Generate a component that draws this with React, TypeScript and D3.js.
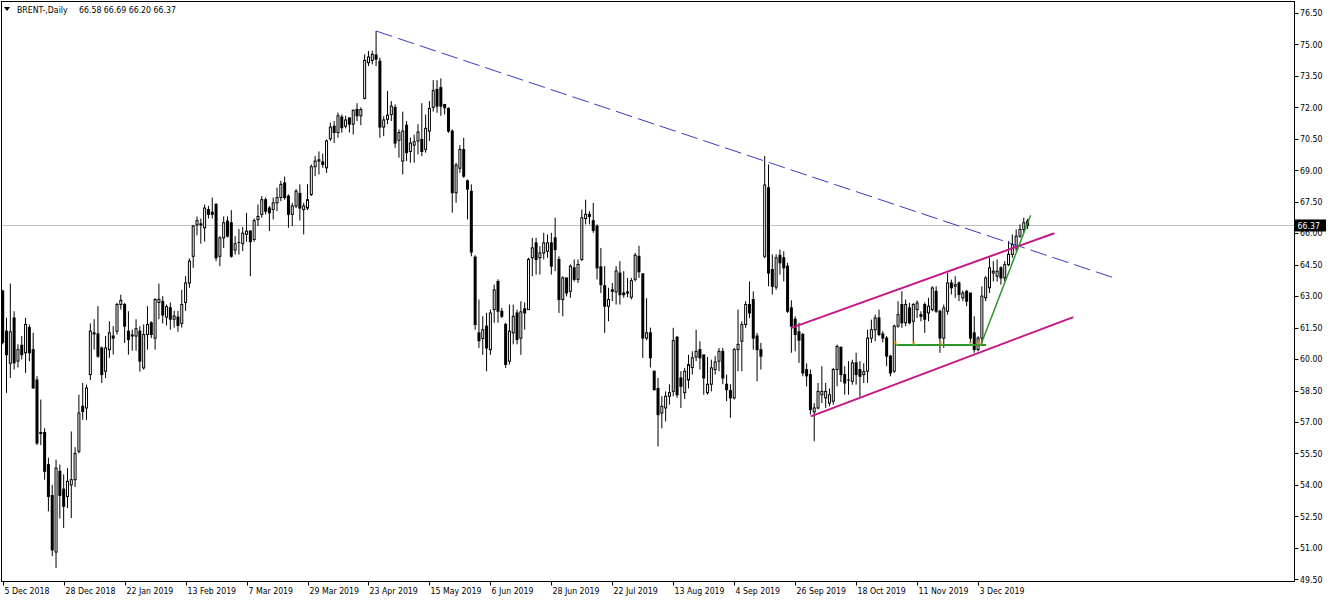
import React from "react";
import * as d3 from "d3";

// ---- data (BRENT-, Daily) ----
const opens = [
63.24,61.33,59.8,61.96,59.9,60.66,60.3,61.5,60.45,59.0,
56.5,56.5,54.97,53.5,50.8,54.65,53.8,53.45,54.0,54.25,
55.6,57.75,57.67,59.26,61.2,61.2,60.53,59.42,60.45,61.1,
61.33,62.6,62.6,61.33,61.1,61.1,61.33,59.58,61.17,61.73,
61.0,62.7,62.75,62.0,62.45,61.9,62.0,61.7,62.7,63.63,
64.9,66.4,66.45,66.26,67.13,67.0,67.37,64.9,65.78,66.58,
66.5,65.2,65.54,65.5,65.95,66.1,65.7,66.65,66.9,67.6,
67.2,67.13,67.45,67.7,68.4,67.77,66.9,67.3,67.9,67.13,
67.2,67.85,69.17,69.44,69.4,69.12,70.5,71.1,70.8,71.54,
71.1,71.5,71.2,71.9,71.6,72.43,74.13,74.24,74.5,74.2,
71.06,71.43,71.66,72.0,70.43,69.44,71.15,69.9,70.2,70.4,
70.47,70.0,70.87,72.0,72.86,72.94,72.14,71.95,70.87,67.93,
69.1,69.99,68.5,68.0,64.86,61.25,60.98,61.57,60.45,62.36,
63.7,62.28,61.65,59.9,61.25,62.2,61.0,62.4,62.36,64.83,
65.54,64.83,65.06,65.14,65.54,65.78,64.75,62.84,63.87,63.23,
64.35,63.8,64.75,66.7,66.9,66.6,66.34,64.4,63.5,62.52,
63.3,63.2,64.1,63.15,63.2,62.95,63.8,64.9,64.06,61.0,
61.25,59.42,58.6,57.43,57.67,58.23,58.46,61.04,59.1,58.4,
59.0,59.6,60.1,60.45,60.2,58.4,58.8,59.5,59.9,60.37,
58.8,58.5,58.15,60.45,60.85,61.65,62.6,62.84,61.1,60.45,
64.9,68.17,64.27,63.43,64.95,64.83,64.43,62.44,61.9,61.3,
61.17,59.5,59.26,57.48,57.67,58.3,58.15,57.9,57.99,59.5,
60.56,59.26,59.0,58.94,59.82,59.5,59.26,59.42,61.0,61.4,
61.96,61.2,61.0,60.14,59.42,61.57,62.6,61.73,62.44,61.8,
62.36,62.12,62.6,62.2,62.36,63.23,62.28,61.0,62.28,63.63,
63.47,63.63,62.92,63.23,63.15,61.25,60.45,61.0,62.92,63.4,
64.1,63.95,64.35,63.87,64.5,64.99,65.3,65.86,66.18,66.58
];
const highs = [
63.3,61.97,63.6,62.28,60.7,61.1,61.96,61.65,61.25,59.18,
58.07,56.7,55.3,54.0,55.2,54.97,54.5,54.8,56.55,55.8,
58.3,58.86,58.78,61.7,61.9,62.52,60.6,61.1,61.8,61.57,
62.68,63.07,62.68,62.28,61.4,61.9,61.57,61.65,62.52,61.8,
62.9,63.6,63.0,62.6,62.7,62.3,62.3,63.3,63.95,64.8,
66.4,66.8,66.7,67.37,67.3,67.7,67.45,65.86,66.8,66.8,
67.1,65.86,66.2,66.3,66.97,66.15,66.7,67.37,67.77,67.7,
67.3,67.7,68.17,68.5,68.7,67.85,67.45,68.1,68.33,67.45,
68.33,69.28,69.68,69.9,69.8,70.47,71.27,71.35,71.75,71.66,
71.6,71.5,71.9,72.2,72.0,74.53,74.69,74.7,75.64,74.37,
71.58,72.78,72.3,72.14,70.95,71.8,71.35,70.55,70.7,71.2,
72.2,71.66,72.3,73.3,73.3,73.38,72.14,72.0,70.95,69.36,
70.2,70.55,68.56,68.33,64.95,62.84,62.04,62.2,62.36,63.55,
63.8,62.44,61.73,62.6,62.6,62.36,62.76,62.7,64.83,65.78,
65.78,65.38,66.02,65.94,66.02,66.74,64.9,63.95,63.87,64.51,
64.75,64.75,67.13,67.6,67.05,67.45,66.42,65.3,64.43,63.4,
63.63,64.43,64.67,64.19,63.87,63.87,65.06,65.4,64.1,62.9,
61.5,59.45,59.1,58.23,58.46,58.8,61.49,61.1,59.42,59.58,
60.2,60.37,61.4,60.85,60.2,60.1,59.97,60.14,60.53,60.53,
59.26,58.8,60.53,62.36,61.8,62.76,63.7,63.23,61.25,60.77,
69.68,69.28,64.99,64.99,65.22,65.14,64.59,62.8,62.04,61.73,
61.25,59.8,59.5,57.9,58.86,59.66,58.86,58.6,59.58,60.69,
60.6,59.66,59.9,59.97,60.3,59.9,59.8,61.4,61.88,62.12,
62.36,61.33,61.1,60.2,61.65,62.76,63.23,62.84,62.68,62.68,
62.8,62.28,62.7,62.92,63.47,63.47,62.36,62.6,64.1,63.79,
63.95,63.7,63.27,63.3,63.15,62.04,61.09,63.47,63.95,64.83,
64.67,64.75,64.43,64.67,65.62,65.94,66.18,66.42,66.74,66.69
];
const lows = [
60.7,58.39,59.1,59.5,59.6,59.98,59.34,59.9,58.6,55.9,
55.9,54.25,52.74,50.6,50.04,52.4,51.95,52.9,52.42,53.9,
55.5,57.1,57.1,59.0,60.45,60.06,58.86,59.1,60.06,60.21,
61.17,62.36,60.77,60.21,60.4,60.4,59.4,59.5,60.45,61.0,
60.45,61.9,61.7,61.6,61.4,61.5,61.3,61.5,62.3,63.4,
64.35,65.9,65.5,65.6,66.7,66.7,64.67,64.43,65.3,65.8,
64.83,64.98,64.98,65.15,65.6,63.95,65.6,66.34,66.74,66.9,
66.1,66.66,67.05,67.53,67.6,66.26,66.34,67.2,66.6,65.94,
67.1,67.77,68.72,68.8,69.12,68.88,70.4,70.3,70.55,70.79,
71.0,70.8,70.7,71.35,71.15,72.38,73.97,74.05,73.97,70.55,
70.63,71.2,71.35,70.07,69.6,68.8,69.44,69.36,69.36,69.76,
69.68,69.84,70.4,71.8,71.74,71.6,71.66,70.79,66.98,67.45,
68.88,68.64,66.66,64.9,61.4,60.53,60.2,59.42,60.2,61.73,
61.73,61.96,59.58,59.74,60.7,60.7,60.2,61.4,62.36,63.95,
64.03,64.03,64.75,64.83,64.03,64.19,62.2,62.04,62.99,62.92,
63.7,63.63,64.67,66.42,66.42,66.02,63.8,63.15,61.25,61.8,
62.76,62.6,62.6,62.92,62.95,62.84,63.7,63.87,60.05,60.9,
59.6,58.5,55.84,56.7,57.03,57.83,58.23,58.15,57.67,58.1,
58.6,59.26,59.9,59.5,58.3,58.3,58.46,59.26,59.42,58.8,
57.99,57.2,58.07,59.42,59.42,61.49,61.96,60.45,58.94,59.5,
64.8,63.47,63.08,63.3,64.03,63.7,62.2,60.3,60.37,59.82,
59.18,58.7,57.35,56.08,57.6,57.9,57.67,57.75,57.83,58.7,
58.9,58.3,58.3,58.78,58.78,58.2,58.86,58.86,60.77,60.85,
61.09,60.8,59.66,59.18,59.34,61.49,61.49,61.57,61.65,60.7,
61.96,61.8,61.25,61.8,62.28,62.2,60.3,60.53,62.12,63.08,
62.92,62.76,62.76,62.52,60.77,60.3,60.37,60.69,62.76,63.15,
63.7,63.7,63.55,63.7,64.43,64.83,65.14,65.78,66.02,66.2
];
const closes = [
60.8,60.21,61.3,59.82,60.45,60.21,61.65,60.3,58.62,56.0,
56.45,54.65,53.45,50.9,54.8,53.5,52.98,54.17,54.25,55.5,
57.43,57.5,58.62,61.33,61.25,60.14,59.26,60.53,61.25,61.0,
62.6,62.8,61.57,60.93,61.15,61.45,59.9,61.17,61.65,61.17,
62.84,62.85,62.1,62.5,61.9,62.05,61.6,62.6,63.63,64.67,
66.34,66.6,66.4,67.2,66.9,66.9,64.83,65.78,66.5,65.86,
64.9,65.5,65.56,66.0,66.1,65.6,66.6,66.8,67.6,67.05,
66.97,67.45,67.7,68.33,67.7,66.9,67.3,68.0,67.2,67.3,
67.6,69.17,69.44,69.5,69.28,70.4,71.06,70.8,71.6,71.03,
71.4,71.2,71.86,71.6,71.9,74.24,74.4,74.53,74.3,71.06,
71.4,71.63,72.06,70.3,70.8,70.87,69.84,70.3,70.36,70.82,
69.9,71.0,71.95,72.8,72.06,72.06,71.98,70.87,67.93,69.25,
69.99,68.72,68.1,65.1,61.65,60.88,61.4,60.53,62.2,63.3,
62.28,62.04,59.74,61.33,62.04,60.93,62.25,62.2,64.75,65.3,
64.75,65.06,65.54,65.54,64.43,65.22,62.84,63.87,63.15,64.43,
63.8,64.51,66.74,66.9,66.8,66.13,64.35,63.55,62.52,62.84,
63.23,64.2,63.07,63.07,63.15,63.74,64.95,64.16,61.0,61.25,
60.06,58.54,57.35,57.75,58.23,58.4,60.88,58.3,58.7,59.42,
59.74,60.06,60.37,60.06,59.1,58.8,59.58,59.86,60.37,59.1,
58.54,58.15,60.45,60.7,61.65,62.6,62.2,61.0,60.45,60.14,
68.3,64.1,63.47,64.83,64.59,64.35,62.28,61.57,61.17,60.9,
59.34,59.2,57.59,57.67,58.46,58.46,58.46,58.3,59.5,60.6,
59.26,58.86,59.0,59.82,59.26,59.18,59.4,61.0,61.4,61.96,
61.17,61.0,60.14,59.34,61.57,62.12,61.73,62.6,61.73,62.6,
62.68,62.04,61.9,62.52,63.39,62.28,61.0,62.44,63.63,63.4,
63.55,63.08,63.15,62.76,61.0,60.45,61.0,63.0,63.87,64.35,
64.19,64.19,63.87,64.5,64.99,65.46,65.86,66.18,66.5,66.37
];

const dateLabels = [
  "5 Dec 2018", "28 Dec 2018", "22 Jan 2019", "13 Feb 2019", "7 Mar 2019",
  "29 Mar 2019", "23 Apr 2019", "15 May 2019", "6 Jun 2019", "28 Jun 2019",
  "22 Jul 2019", "13 Aug 2019", "4 Sep 2019", "26 Sep 2019", "18 Oct 2019",
  "11 Nov 2019", "3 Dec 2019"
];
const barsPerLabel = 16;
const priceTicks = [49.5, 51, 52.5, 54, 55.5, 57, 58.5, 60, 61.5, 63, 64.5, 66, 67.5, 69, 70.5, 72, 73.5, 75, 76.5];
const symbolName = "BRENT-,Daily";
const lastBar = [66.58, 66.69, 66.2, 66.37];
const bidPrice = 66.37;

// trend objects: [barIndex, price]
const resistanceLine = [[98, 75.64], [291.2, 63.9]];
const channelUpper = [[207, 61.49], [276.0, 66.0]];
const channelLower = [[212.1, 57.27], [281.0, 62.0]];
const necklineLine = [[234.5, 60.67], [258.1, 60.67]];
const breakoutLine = [[256.7, 60.66], [269.8, 66.86]];
const markerBars = [234.6, 239.5, 246.5, 254.3, 256.5];
const markerPrice = 60.67;

const FONT = "'DejaVu Sans Condensed', 'DejaVu Sans', Tahoma, sans-serif";

export default function App() {
  const W = 1332, H = 601;
  const left = 1.5, top = 1.5, right = 1294.5, bottom = 581.5;
  const n = closes.length;
  const x = d3.scaleLinear().domain([0, n - 1]).range([2.7, 2.7 + 3.81 * (n - 1)]);
  const y = d3.scaleLinear().domain([49.5, 76.5]).range([579.3, 13]);
  const fmt = d3.format(".2f");

  const seg = (pts: number[][]) => {
    const [a, b] = pts;
    return { x1: x(a[0]), y1: y(a[1]), x2: x(b[0]), y2: y(b[1]) };
  };

  const candles = closes.map((c, i) => {
    const o = opens[i], h = highs[i], l = lows[i];
    const cx = x(i);
    const yTop = y(Math.max(o, c));
    const yBot = y(Math.min(o, c));
    const bull = c >= o;
    const bh = Math.max(yBot - yTop, 0);
    return (
      <g key={i}>
        <line x1={cx} x2={cx} y1={y(h)} y2={y(l)} stroke="#000" strokeWidth={1} />
        {bh < 1 ? (
          <line x1={cx - 1.5} x2={cx + 1.5} y1={yTop} y2={yTop} stroke="#000" strokeWidth={1} />
        ) : bull ? (
          <rect x={cx - 1} y={yTop} width={2} height={bh} fill="#fff" stroke="#000" strokeWidth={1} />
        ) : (
          <rect x={cx - 1.5} y={yTop - 0.5} width={3} height={bh + 1} fill="#000" />
        )}
      </g>
    );
  });

  const rl = seg(resistanceLine);
  const cu = seg(channelUpper);
  const cl = seg(channelLower);
  const nl = seg(necklineLine);
  const bl = seg(breakoutLine);

  return (
    <svg width={W} height={H} style={{ position: "fixed", left: 0, top: 0, display: "block", background: "#fff" }}
      fontFamily={FONT}>
      <defs>
        <clipPath id="plot">
          <rect x={left} y={top} width={right - left} height={bottom - top} />
        </clipPath>
      </defs>
      <rect x={0} y={0} width={W} height={H} fill="#fff" />

      {/* bid line */}
      <line x1={left} x2={right} y1={Math.round(y(bidPrice)) + 0.5} y2={Math.round(y(bidPrice)) + 0.5} stroke="#c0c0c0" strokeWidth={1} />

      <g clipPath="url(#plot)">
        {candles}
        <line {...rl} stroke="#3a3ac8" strokeWidth={1} strokeDasharray="17 6" />
        <line {...cu} stroke="#c71585" strokeWidth={2} />
        <line {...cl} stroke="#c71585" strokeWidth={2} />
        <line {...nl} stroke="#2a962a" strokeWidth={2} />
        <line {...bl} stroke="#2a962a" strokeWidth={1.5} />
        {markerBars.map((b, i) => {
          const mx = x(b), my = y(markerPrice);
          return (
            <path key={i} d={`M${mx - 2},${my - 3} L${mx + 1},${my} M${mx - 2},${my - 3} L${mx - 2},${my - 0.5} M${mx - 2},${my - 3} L${mx + 0.5},${my - 3}`}
              stroke="#e8a317" strokeWidth={1} fill="none" />
          );
        })}
      </g>

      {/* frame */}
      <rect x={left} y={top} width={right - left} height={bottom - top} fill="none" stroke="#000" strokeWidth={1} />

      {/* header */}
      <path d="M4,7 L10,7 L7,11 Z" fill="#000" />
      <text x={17} y={13} fontSize={8.7} fill="#000">{symbolName}</text>
      <text x={79} y={13} fontSize={8.7} fill="#000">{lastBar.map(fmt).join(" ")}</text>

      {/* price axis */}
      {priceTicks.map((t) => (
        <g key={t}>
          <line x1={right} x2={right + 4} y1={Math.round(y(t)) + 0.5} y2={Math.round(y(t)) + 0.5} stroke="#000" />
          <text x={right + 5.5} y={y(t) + 3.2} fontSize={8.7} fill="#000">{fmt(t)}</text>
        </g>
      ))}
      <rect x={right + 0.5} y={y(bidPrice) - 6} width={31} height={12} fill="#000" />
      <text x={right + 3} y={y(bidPrice) + 3.3} fontSize={8.7} fill="#fff">{fmt(bidPrice)}</text>

      {/* time axis */}
      {dateLabels.map((d, k) => {
        const tx = Math.round(x(k * barsPerLabel)) + 0.5;
        return (
          <g key={d}>
            <line x1={tx} x2={tx} y1={bottom} y2={bottom + 4} stroke="#000" />
            <text x={tx + 1} y={594} fontSize={8.7} fill="#000">{d}</text>
          </g>
        );
      })}
    </svg>
  );
}
